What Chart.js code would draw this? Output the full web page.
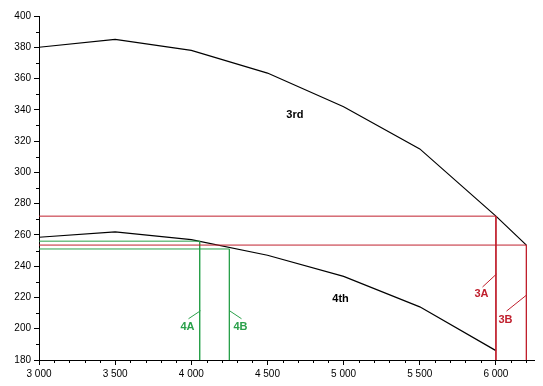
<!DOCTYPE html>
<html>
<head>
<meta charset="utf-8">
<script src="https://cdn.jsdelivr.net/npm/chart.js@4"></script>
<style>
  body { margin: 0; background: #fff; }
  canvas { display: block; }
</style>
</head>
<body>
<canvas id="chart" width="543" height="386"></canvas>
<script>
// speeds (x) and the two gear curves (y)
const speeds = [3000, 3500, 4000, 4500, 5000, 5500, 6000, 6200];
const third = [380, 385, 378, 363.5, 342, 315, 272, 253.5];
const fourthSpeeds = [3000, 3500, 4000, 4500, 5000, 5500, 6000];
const fourth = [258.5, 262, 257, 247, 233.5, 214, 186];
// reading lines
const thirdMarkX = [6000, 6200];
const thirdMarkY = [272, 253.5];
const thirdMarkNames = [`3A`, `3B`];
const fourthMarkX = [4055, 4250];
const fourthMarkY = [256, 251];
const fourthMarkNames = [`4A`, `4B`];
const curveNames = [`3rd`, `4th`];
// axis ticks
const xTicks = [3000, 3500, 4000, 4500, 5000, 5500, 6000];
const yTicks = [180, 200, 220, 240, 260, 280, 300, 320, 340, 360, 380, 400];
//
const RED = `#c0202e`;
const GREEN = `#2aa04a`;
const FONT = `"Liberation Sans", Arial, sans-serif`;

function toPoints(xs, ys) {
    return xs.map((x, i) => ({ x: x, y: ys[i] }))
}
// polyline: from the y axis across, then down to the x axis
function markLine(x, y) {
    return [{ x: 3000, y: y }, { x: x, y: y }, { x: x, y: 180 }]
}

const datasets = [];
thirdMarkX.forEach((x, i) => {
    datasets.push({ data: markLine(x, thirdMarkY[i]), borderColor: RED, borderWidth: 1 })
})
fourthMarkX.forEach((x, i) => {
    datasets.push({ data: markLine(x, fourthMarkY[i]), borderColor: GREEN, borderWidth: 1 })
})
datasets.push({ data: toPoints(speeds, third), borderColor: `#000`, borderWidth: 1.2 })
datasets.push({ data: toPoints(fourthSpeeds, fourth), borderColor: `#000`, borderWidth: 1.2 })

// minor ticks, labels and leader lines
const extras = {
    id: `extras`,
    afterDraw(chart) {
        const ctx = chart.ctx;
        const xs = chart.scales.x;
        const ys = chart.scales.y;
        const area = chart.chartArea;
        ctx.save();
        ctx.strokeStyle = `#000`;
        ctx.lineWidth = 1;
        ctx.beginPath();
        for (let v = 3100; v <= 6200; v += 100) {
            if (v % 500 === 0) continue;
            const px = Math.round(xs.getPixelForValue(v)) + 0.5;
            ctx.moveTo(px, area.bottom);
            ctx.lineTo(px, area.bottom + 3);
        }
        for (let v = 190; v < 400; v += 20) {
            const py = Math.round(ys.getPixelForValue(v)) + 0.5;
            ctx.moveTo(area.left - 3, py);
            ctx.lineTo(area.left, py);
        }
        ctx.stroke();

        // leaders: [x value, y value, dx, dy, colour, name, text gap]
        const leaders = [
            [fourthMarkX[0], 211.5, -12, 8, GREEN, fourthMarkNames[0], 8],
            [fourthMarkX[1], 211.5, 12, 8, GREEN, fourthMarkNames[1], 8],
            [thirdMarkX[0], 235, -14, 13, RED, thirdMarkNames[0], 7],
            [thirdMarkX[1], 221.5, -20, 16, RED, thirdMarkNames[1], 9]
        ];
        ctx.font = `bold 11px ${FONT}`;
        ctx.textAlign = `center`;
        ctx.textBaseline = `middle`;
        leaders.forEach(l => {
            const px = Math.round(xs.getPixelForValue(l[0])) + 0.5;
            const py = ys.getPixelForValue(l[1]);
            ctx.strokeStyle = l[4];
            ctx.beginPath();
            ctx.moveTo(px, py);
            ctx.lineTo(px + l[2], py + l[3]);
            ctx.stroke();
            ctx.fillStyle = l[4];
            ctx.fillText(l[5], px + l[2] - 1, py + l[3] + l[6]);
        })
        // curve names
        ctx.fillStyle = `#000`;
        ctx.fillText(curveNames[0], xs.getPixelForValue(4680), ys.getPixelForValue(337));
        ctx.fillText(curveNames[1], xs.getPixelForValue(4980), ys.getPixelForValue(219));
        ctx.restore();
    }
}

new Chart(document.getElementById(`chart`), {
    type: `line`,
    data: { datasets: datasets },
    options: {
        responsive: false,
        animation: false,
        devicePixelRatio: 1,
        layout: { padding: { top: 16, right: 9, left: 0, bottom: 0 } },
        elements: { point: { radius: 0 }, line: { tension: 0 } },
        plugins: { legend: { display: false }, tooltip: { enabled: false } },
        scales: {
            x: {
                type: `linear`,
                min: 3000,
                max: 6250,
                afterBuildTicks: scale => { scale.ticks = xTicks.map(v => ({ value: v })) },
                afterFit: scale => { scale.height = 26 },
                border: { color: `#000` },
                grid: { drawOnChartArea: false, color: `#000`, tickLength: 5 },
                ticks: {
                    autoSkip: false,
                    maxRotation: 0,
                    color: `#000`,
                    font: { family: FONT, size: 10 },
                    callback: v => String(v).replace(/\B(?=(\d{3})+$)/g, ` `)
                }
            },
            y: {
                min: 180,
                max: 400,
                afterBuildTicks: scale => { scale.ticks = yTicks.map(v => ({ value: v })) },
                afterFit: scale => { scale.width = 39 },
                border: { color: `#000` },
                grid: { drawOnChartArea: false, color: `#000`, tickLength: 5 },
                ticks: {
                    autoSkip: false,
                    color: `#000`,
                    font: { family: FONT, size: 10 }
                }
            }
        }
    },
    plugins: [extras]
});
</script>
</body>
</html>
